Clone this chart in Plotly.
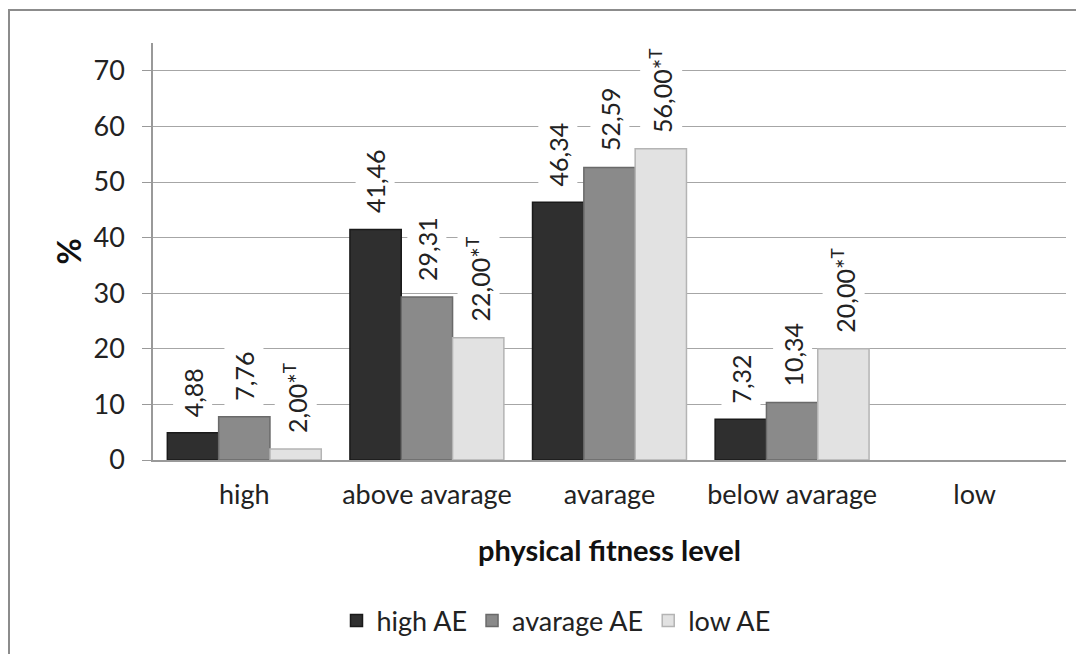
import plotly.graph_objects as go

categories = ["high", "above avarage", "avarage", "below avarage", "low"]
series_names = ["high AE", "avarage AE", "low AE"]
high_ae = [4.88, 41.46, 46.34, 7.32, None]
avarage_ae = [7.76, 29.31, 52.59, 10.34, None]
low_ae = [2.00, 22.00, 56.00, 20.00, None]
low_ae_flag = [True, True, True, True, False]  # marked with *T
y_ticks = [0, 10, 20, 30, 40, 50, 60, 70]

# page has an 8px body margin; figure sized to fit the 1084x654 window
OFF = 8
W, H = 1084 - OFF, 654 - OFF
L, T = 153 - OFF, 43 - OFF
PW = 1066 - 153
PH = 460 - 43
R = W - L - PW
B = H - T - PH
BARGAP = 0.157
bar_px = PW / len(categories) * (1 - BARGAP) / 3


def px_x(page_x):
    return (page_x - OFF - L) / PW


def px_y(page_y):
    return (T + PH - (page_y - OFF)) / PH


fills = ["#2f2f2f", "#8a8a8a", "#e2e2e2"]
lines = ["#1a1a1a", "#6a6a6a", "#b4b4b4"]
FONT = "Lato, 'Open Sans', sans-serif"
FS = 27


def fmt(v, flag=False):
    s = f"{v:.2f}".replace(".", ",")
    return s + ("*<sup>T</sup>" if flag else "")


fig = go.Figure()
all_series = [high_ae, avarage_ae, low_ae]
flags = [[False] * 5, [False] * 5, low_ae_flag]
for i, (name, vals) in enumerate(zip(series_names, all_series)):
    fig.add_trace(go.Bar(
        x=categories, y=vals, name=name,
        marker=dict(color=fills[i], line=dict(color=lines[i], width=1.5)),
    ))

annotations = []
for i, vals in enumerate(all_series):
    for j, v in enumerate(vals):
        if v is None:
            continue
        annotations.append(dict(
            x=categories[j], y=v, xref="x", yref="y",
            xshift=(i - 1) * bar_px, yshift=11,
            text=fmt(v, flags[i][j]), textangle=-90, showarrow=False,
            xanchor="center", yanchor="bottom",
            bgcolor="white", borderpad=4,
            font=dict(family=FONT, size=25, color="#222"),
        ))

annotations.append(dict(
    x=px_x(68), y=0.5, xref="paper", yref="paper",
    text="<b>%</b>", textangle=-90, showarrow=False,
    font=dict(family=FONT, size=32, color="#111"),
    xanchor="center", yanchor="middle",
))
annotations.append(dict(
    x=0.5, y=px_y(549), xref="paper", yref="paper",
    text="<b>physical fitness level</b>", showarrow=False,
    font=dict(family=FONT, size=29, color="#111"),
    xanchor="center", yanchor="middle",
))

border = dict(
    type="rect", xref="paper", yref="paper", layer="below",
    x0=px_x(9), x1=px_x(1100),
    y0=px_y(680), y1=px_y(10),
    line=dict(color="#8c8c8c", width=2), fillcolor="rgba(0,0,0,0)",
)

fig.update_layout(
    width=W, height=H,
    margin=dict(l=L, r=R, t=T, b=B, pad=0, autoexpand=False),
    paper_bgcolor="white", plot_bgcolor="white",
    barmode="group", bargap=BARGAP, bargroupgap=0,
    font=dict(family=FONT, size=FS, color="#222"),
    showlegend=True,
    legend=dict(
        orientation="h", x=px_x(556), y=px_y(621),
        xanchor="center", yanchor="middle",
        font=dict(family=FONT, size=FS, color="#222"),
        itemwidth=30, traceorder="normal",
    ),
    annotations=annotations,
    shapes=[border],
    xaxis=dict(
        showline=True, linecolor="#999", linewidth=1.5,
        showgrid=False, ticks="", tickfont=dict(size=FS),
        ticklabelstandoff=10,
    ),
    yaxis=dict(
        range=[0, 75], tickvals=y_ticks, showline=True, linecolor="#999",
        linewidth=1.5, gridcolor="#a6a6a6", gridwidth=1.2,
        ticks="outside", ticklen=9, tickcolor="#999",
        tickfont=dict(size=FS), zeroline=False,
        ticklabelstandoff=12,
    ),
)

fig.write_html("out.html")
